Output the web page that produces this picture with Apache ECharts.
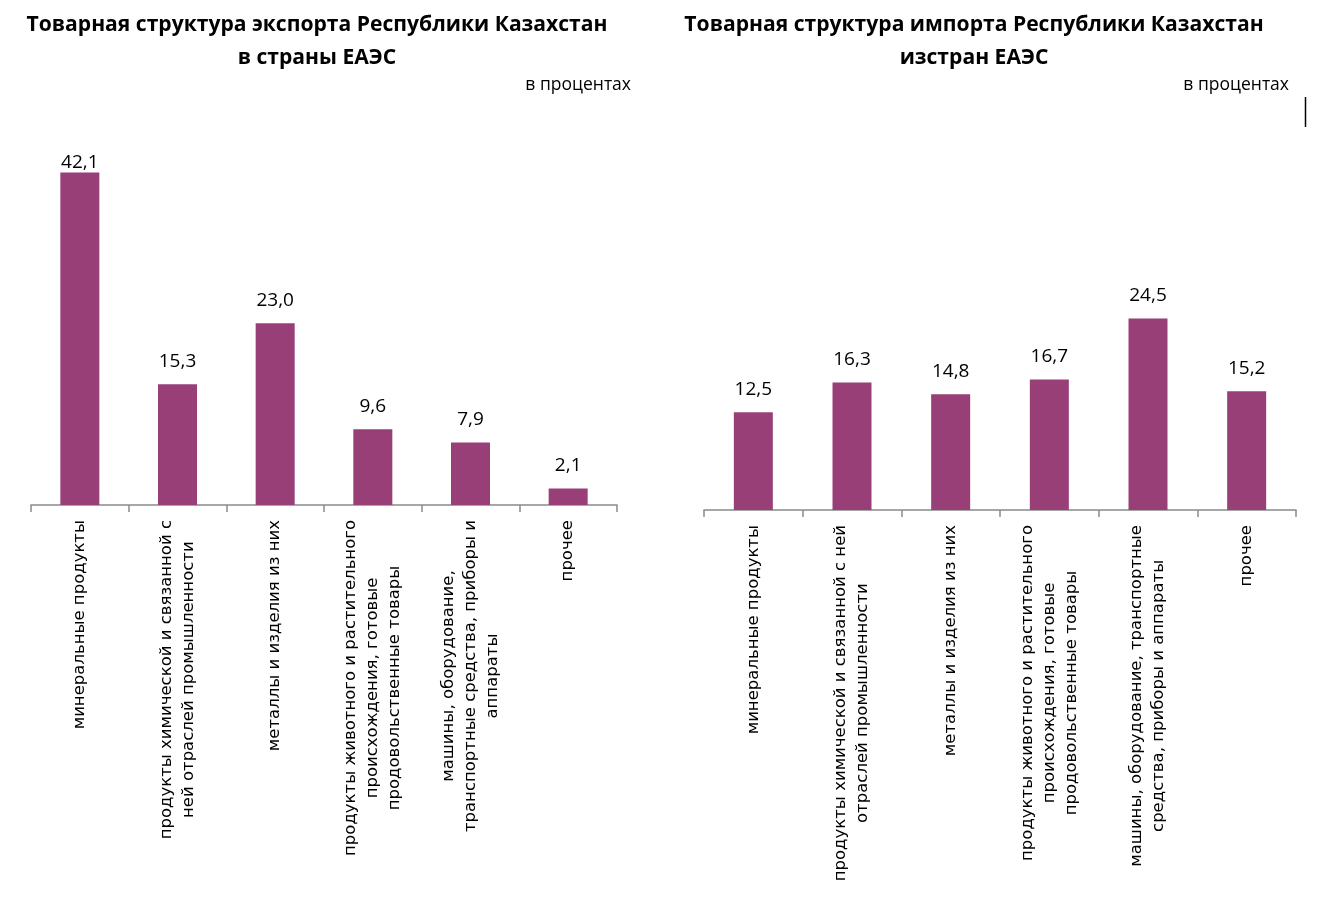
<!DOCTYPE html>
<html><head><meta charset="utf-8">
<script src="https://cdn.jsdelivr.net/npm/echarts@6/dist/echarts.min.js"></script>
<style>html,body{margin:0;padding:0;background:#fff}#c{width:1336px;height:900px}</style>
</head><body><div id="c"></div>
<script>
const exportCategories = [
  'минеральные продукты',
  'продукты химической и связанной с\nней отраслей промышленности',
  'металлы и изделия из них',
  'продукты животного и растительного\nпроисхождения, готовые\nпродовольственные товары',
  'машины, оборудование,\nтранспортные средства, приборы и\nаппараты',
  'прочее'
];
const importCategories = [
  'минеральные продукты',
  'продукты химической и связанной с ней\nотраслей промышленности',
  'металлы и изделия из них',
  'продукты животного и растительного\nпроисхождения, готовые\nпродовольственные товары',
  'машины, оборудование, транспортные\nсредства, приборы и аппараты',
  'прочее'
];
const exportValues = [42.1, 15.3, 23.0, 9.6, 7.9, 2.1];
const importValues = [12.5, 16.3, 14.8, 16.7, 24.5, 15.2];
const exportTitle = 'Товарная структура экспорта Республики Казахстан\nв страны ЕАЭС';
const importTitle = 'Товарная структура импорта Республики Казахстан\nизстран ЕАЭС';
const unitText = 'в процентах';

const BAR = '#983F78';
const chart = echarts.init(document.getElementById('c'));

function xAxisFor(cats, gi) {
  return {
    type: 'category', gridIndex: gi, data: cats,
    axisLine: {lineStyle: {color: '#8a8a8a', width: 1.5}},
    axisTick: {show: true, length: 7, alignWithLabel: false, lineStyle: {color: '#8a8a8a', width: 1.5}},
    axisLabel: {
      interval: 0, rotate: 90, margin: 15, color: '#000',
      fontFamily: 'DejaVu Sans', fontSize: 16.5, lineHeight: 22,
      formatter: v => v.split('\n').map(l => '{c|' + l + '}').join('\n'),
      rich: {c: {align: 'center', fontFamily: 'DejaVu Sans', fontSize: 16.5, lineHeight: 22, color: '#000'}}
    }
  };
}
function yAxisFor(gi) {
  return {type: 'value', gridIndex: gi, min: 0, max: 50, show: false, splitLine: {show: false}};
}
function seriesFor(vals, idx) {
  return {
    type: 'bar', xAxisIndex: idx, yAxisIndex: idx, barWidth: 39,
    // labels of very tall bars are pushed down against the bar (as in the source chart)
    data: vals.map(v => v > 40 ? {value: v, label: {distance: 0}} : v),
    itemStyle: {color: BAR},
    label: {
      show: true, position: 'top', distance: 13, color: '#000',
      fontFamily: 'Open Sans', fontSize: 19,
      formatter: p => p.value.toFixed(1).replace('.', ',')
    }
  };
}
const titleStyle = {fontFamily: 'Open Sans', fontWeight: 'bold', fontSize: 21.1, lineHeight: 33, color: '#000'};
const unitStyle = {fontFamily: 'Open Sans', fontWeight: 'normal', fontSize: 17.5, color: '#000'};

chart.setOption({
  animation: false,
  title: [
    {text: exportTitle, left: 312, top: 3, textAlign: 'center', textStyle: titleStyle},
    {text: importTitle, left: 969, top: 3, textAlign: 'center', textStyle: titleStyle},
    {text: unitText, right: 705, top: 76, padding: 0, textStyle: unitStyle},
    {text: unitText, right: 47, top: 76, padding: 0, textStyle: unitStyle}
  ],
  grid: [
    {left: 31, width: 586, top: 110, height: 395},
    {left: 704, width: 592, top: 119, height: 391}
  ],
  xAxis: [xAxisFor(exportCategories, 0), xAxisFor(importCategories, 1)],
  yAxis: [yAxisFor(0), yAxisFor(1)],
  series: [seriesFor(exportValues, 0), seriesFor(importValues, 1)],
  graphic: [{type: 'line', shape: {x1: 1305.5, y1: 97, x2: 1305.5, y2: 127}, style: {stroke: '#000', lineWidth: 1.5}}]
});
</script></body></html>
